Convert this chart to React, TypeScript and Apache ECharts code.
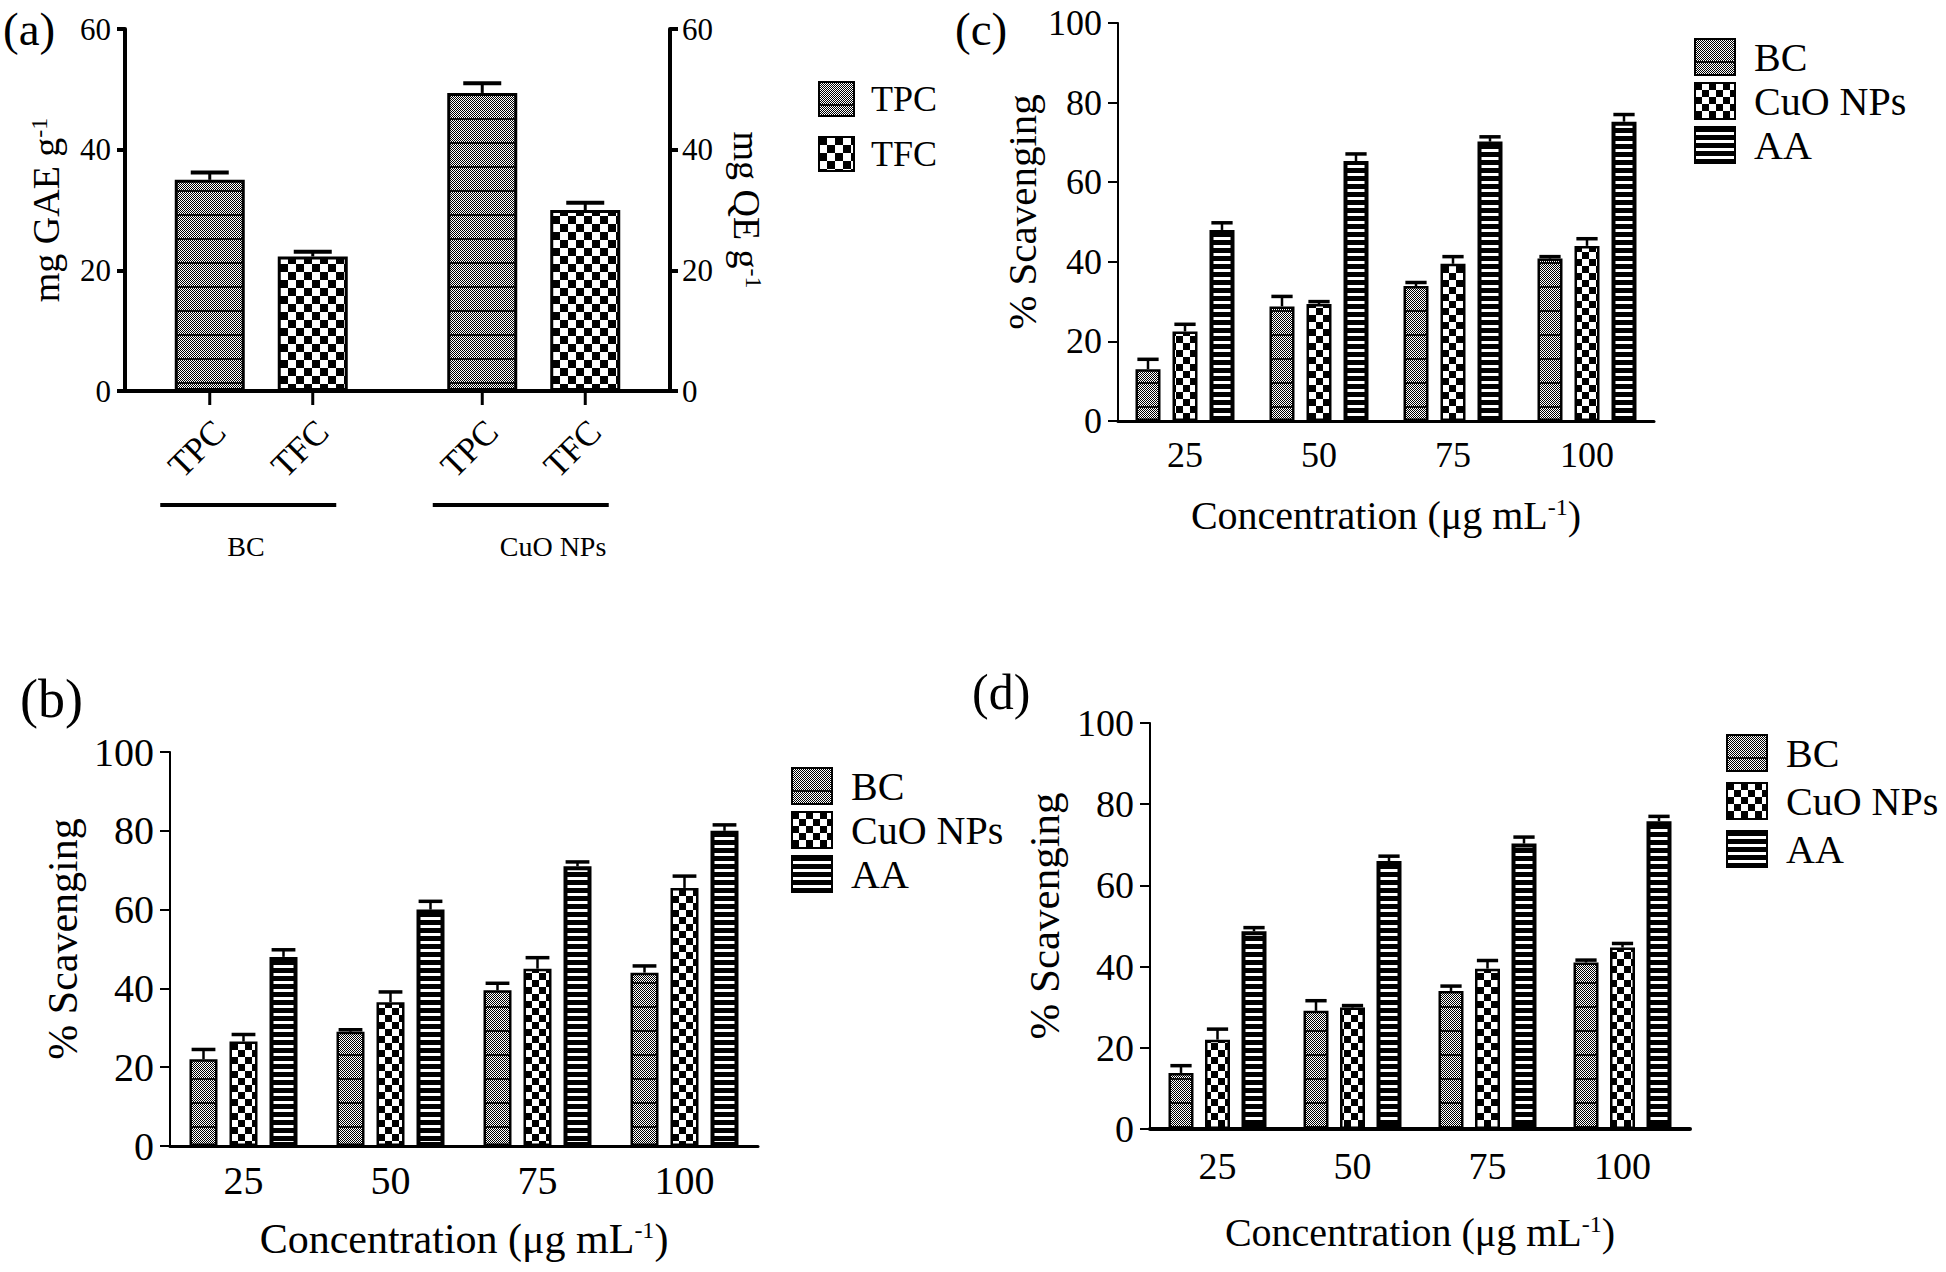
import React, { useEffect, useRef } from 'react';
import * as echarts from 'echarts';

const FONT = '"Liberation Serif", "Times New Roman", serif';

// ---------- Panel (a) ----------
const groupsA = ['BC', 'CuO NPs'];
const seriesA = ['TPC', 'TFC'];
const tpcA = [35, 49.4];
const tpcErrA = [1.2, 1.6];
const tfcA = [22.3, 30];
const tfcErrA = [0.8, 1.2];
const yTicksA = { min: 0, max: 60, interval: 20 };

// ---------- Panels (b), (c), (d) ----------
const concentrations = ['25', '50', '75', '100'];
const seriesS = ['BC', 'CuO NPs', 'AA'];
const yTicksS = { min: 0, max: 100, interval: 20 };

// (b)
const bBC = [22, 29, 39.5, 44];
const bBCErr = [2.5, 0.5, 1.8, 1.7];
const bCuO = [26.5, 36.5, 45, 65.5];
const bCuOErr = [1.8, 2.6, 2.8, 3.0];
const bAA = [48, 60, 71, 80];
const bAAErr = [1.8, 2.1, 1.1, 1.5];

// (c)
const cBC = [13, 28.8, 33.9, 40.8];
const cBCErr = [2.5, 2.5, 0.9, 0.5];
const cCuO = [22.5, 29.4, 39.5, 44];
const cCuOErr = [1.8, 0.6, 1.8, 1.8];
const cAA = [48, 65.3, 70.2, 75.2];
const cAAErr = [1.8, 1.8, 1.2, 1.8];

// (d)
const dBC = [13.8, 29.1, 34, 41];
const dBCErr = [1.8, 2.5, 1.2, 0.6];
const dCuO = [22, 29.9, 39.5, 44.7];
const dCuOErr = [2.6, 0.5, 2, 1];
const dAA = [48.7, 66, 70.3, 75.8];
const dAAErr = [0.9, 1.2, 1.6, 1.2];

function makePattern(kind: string, cell = 7): any {
  const c = document.createElement('canvas');
  let w = 4;
  let h = 24;
  if (kind === 'checker') { w = cell * 2; h = cell * 2; }
  if (kind === 'stripes') { w = 4; h = 8; }
  c.width = w;
  c.height = h;
  const ctx = c.getContext('2d')!;
  ctx.fillStyle = '#fff';
  ctx.fillRect(0, 0, w, h);
  ctx.fillStyle = '#000';
  if (kind === 'dots') {
    for (let y = 0; y < h - 2; y++) {
      for (let x = 0; x < w; x++) {
        if ((x + y) % 2 === 0) ctx.fillRect(x, y, 1, 1);
      }
    }
    ctx.fillStyle = '#111';
    ctx.fillRect(0, h - 2, w, 2);
  } else if (kind === 'checker') {
    ctx.fillRect(0, 0, cell, cell);
    ctx.fillRect(cell, cell, cell, cell);
  } else {
    ctx.fillRect(0, 0, w, 5);
  }
  return { image: c.toDataURL(), repeat: 'repeat', imageWidth: w, imageHeight: h };
}

function errRenderer(n: number, w: number, g: number, capW: number, lw: number) {
  return (params: any, api: any) => {
    const cat = api.value(0);
    const val = api.value(1);
    const err = api.value(2);
    const s = api.value(3);
    const base = api.coord([cat, val]);
    const top = api.coord([cat, val + err]);
    const x = base[0] + (s - (n - 1) / 2) * (w + g);
    return {
      type: 'group',
      children: [
        { type: 'line', shape: { x1: x, y1: base[1], x2: x, y2: top[1] }, style: { stroke: '#000', lineWidth: lw } },
        { type: 'line', shape: { x1: x - capW / 2, y1: top[1], x2: x + capW / 2, y2: top[1] }, style: { stroke: '#000', lineWidth: lw + 1 } },
      ],
    };
  };
}

function buildOption() {
  const P = {
    dots: makePattern('dots'),
    checker: makePattern('checker', 7),
    checkerA: makePattern('checker', 8),
    stripes: makePattern('stripes'),
  };
  const sup = { sup: { fontSize: 24, fontFamily: FONT, color: '#000', verticalAlign: 'top' } };

  const panels = [
    {
      grid: { left: 1118, top: 23, width: 536, height: 398 },
      data: [[cBC, cBCErr], [cCuO, cCuOErr], [cAA, cAAErr]],
      barW: 25, gap: 12, tickFont: 36, xLabelMargin: 16, nameGapX: 74, nameGapY: 76, titleFont: 41, xTitleFont: 40,
      axisW: 2, xAxisW: 3,
      legend: { left: 1689, top: 32, itemGap: 4 },
    },
    {
      grid: { left: 170, top: 752, width: 588, height: 394 },
      data: [[bBC, bBCErr], [bCuO, bCuOErr], [bAA, bAAErr]],
      barW: 28, gap: 12, tickFont: 40, xLabelMargin: 14, nameGapX: 72, nameGapY: 86, titleFont: 42, xTitleFont: 42,
      axisW: 2, xAxisW: 3,
      legend: { left: 786, top: 761, itemGap: 4 },
    },
    {
      grid: { left: 1150, top: 723, width: 540, height: 406 },
      data: [[dBC, dBCErr], [dCuO, dCuOErr], [dAA, dAAErr]],
      barW: 25, gap: 11.5, tickFont: 38, xLabelMargin: 18, nameGapX: 83, nameGapY: 84, titleFont: 43, xTitleFont: 40,
      axisW: 2, xAxisW: 4,
      legend: { left: 1721, top: 728, itemGap: 8 },
    },
  ];

  const grid: any[] = [{ left: 125, top: 29, width: 545, height: 362 }];
  const xAxis: any[] = [
    {
      type: 'category', gridIndex: 0, data: groupsA,
      axisLine: { lineStyle: { color: '#000', width: 4 } },
      axisTick: { show: false }, axisLabel: { show: false },
    },
  ];
  const yAxisBaseA = {
    type: 'value', gridIndex: 0, ...yTicksA,
    splitLine: { show: false },
    axisLine: { show: true, lineStyle: { color: '#000', width: 4 } },
    axisTick: { show: true, length: 8, lineStyle: { width: 4, color: '#000' } },
    axisLabel: { color: '#000', fontSize: 31, fontFamily: FONT, margin: 14 },
    nameLocation: 'middle',
    nameTextStyle: { color: '#000', fontSize: 38, fontFamily: FONT, rich: sup },
  };
  const yAxis: any[] = [
    { ...yAxisBaseA, position: 'left', name: 'mg GAE g{sup|-1}', nameGap: 60 },
    { ...yAxisBaseA, position: 'right', name: 'mg QE g{sup|-1}', nameGap: 58, nameRotate: -90,
      axisLabel: { ...yAxisBaseA.axisLabel, margin: 12 } },
  ];
  const legend: any[] = [
    {
      data: seriesA, orient: 'vertical', left: 813, top: 76, itemGap: 19, itemWidth: 35, itemHeight: 34,
      icon: 'rect', textStyle: { color: '#000', fontSize: 36, fontFamily: FONT, padding: [0, 0, 0, 12] },
    },
  ];

  const series: any[] = [
    {
      type: 'bar', name: seriesA[0], xAxisIndex: 0, yAxisIndex: 0, data: tpcA,
      barWidth: 70, barGap: `${(33 / 70) * 100}%`,
      itemStyle: { color: P.dots, borderColor: '#000', borderWidth: 3 },
    },
    {
      type: 'bar', name: seriesA[1], xAxisIndex: 0, yAxisIndex: 1, data: tfcA,
      barWidth: 70, barGap: `${(33 / 70) * 100}%`,
      itemStyle: { color: P.checkerA, borderColor: '#000', borderWidth: 3 },
    },
    {
      type: 'custom', name: 'errA', xAxisIndex: 0, yAxisIndex: 0, z: 10,
      renderItem: errRenderer(2, 70, 33, 38, 3),
      encode: { x: 0, y: 1 },
      data: [
        ...tpcA.map((v, i) => [i, v, tpcErrA[i], 0]),
        ...tfcA.map((v, i) => [i, v, tfcErrA[i], 1]),
      ],
    },
    {
      type: 'custom', name: 'ticksA', xAxisIndex: 0, yAxisIndex: 0, z: 10,
      encode: { x: 0, y: 1 },
      data: [[0, 0, 0], [0, 0, 1], [1, 0, 0], [1, 0, 1]],
      renderItem: (params: any, api: any) => {
        const cat = api.value(0);
        const s = api.value(2);
        const p = api.coord([cat, 0]);
        const x = p[0] + (s - 0.5) * (70 + 33);
        return {
          type: 'group',
          children: [
            { type: 'line', shape: { x1: x, y1: p[1], x2: x, y2: p[1] + 14 }, style: { stroke: '#000', lineWidth: 3 } },
            {
              type: 'text', x: x + 10, y: p[1] + 35, rotation: Math.PI / 4,
              style: { text: seriesA[s], fontSize: 35, fontFamily: FONT, fill: '#000', align: 'right', verticalAlign: 'middle' },
            },
          ],
        };
      },
    },
    {
      type: 'custom', name: 'groupsA', xAxisIndex: 0, yAxisIndex: 0, z: 10,
      encode: { x: 0, y: 1 },
      data: [[0, 0], [1, 0]],
      renderItem: (params: any, api: any) => {
        const cat = api.value(0);
        const p = api.coord([cat, 0]);
        const cx = p[0] - 13;
        return {
          type: 'group',
          children: [
            { type: 'line', shape: { x1: cx - 88, y1: p[1] + 114, x2: cx + 88, y2: p[1] + 114 }, style: { stroke: '#000', lineWidth: 4 } },
            {
              type: 'text', x: cx - 88 + 67, y: p[1] + 155,
              style: { text: groupsA[cat], fontSize: 28, fontFamily: FONT, fill: '#000', align: 'left', verticalAlign: 'middle' },
            },
          ],
        };
      },
    },
  ];

  const pats = [P.dots, P.checker, P.stripes];
  panels.forEach((pn, k) => {
    const gi = k + 1;
    const yi = k + 2;
    grid.push(pn.grid);
    xAxis.push({
      type: 'category', gridIndex: gi, data: concentrations,
      axisLine: { lineStyle: { color: '#000', width: pn.xAxisW } },
      axisTick: { alignWithLabel: true, length: 12, lineStyle: { width: 2, color: '#000' } },
      axisLabel: { color: '#000', fontSize: pn.tickFont, fontFamily: FONT, margin: pn.xLabelMargin },
      name: 'Concentration (μg mL{sup|-1})', nameLocation: 'middle', nameGap: pn.nameGapX,
      nameTextStyle: { color: '#000', fontSize: pn.xTitleFont, fontFamily: FONT, rich: sup },
    });
    yAxis.push({
      type: 'value', gridIndex: gi, ...yTicksS,
      splitLine: { show: false },
      axisLine: { show: true, lineStyle: { color: '#000', width: pn.axisW } },
      axisTick: { show: true, length: 10, lineStyle: { width: 2, color: '#000' } },
      axisLabel: { color: '#000', fontSize: pn.tickFont, fontFamily: FONT, margin: 16 },
      name: '% Scavenging', nameLocation: 'middle', nameGap: pn.nameGapY,
      nameTextStyle: { color: '#000', fontSize: pn.titleFont, fontFamily: FONT, padding: [0, 0, 0, 20] },
    });
    legend.push({
      data: seriesS, orient: 'vertical', left: pn.legend.left, top: pn.legend.top, itemGap: pn.legend.itemGap,
      itemWidth: 40, itemHeight: 36, icon: 'rect',
      textStyle: { color: '#000', fontSize: 40, fontFamily: FONT, padding: [0, 0, 0, 14] },
    });
    const gapPct = `${(pn.gap / pn.barW) * 100}%`;
    pn.data.forEach((d, s) => {
      series.push({
        type: 'bar', name: seriesS[s], xAxisIndex: gi, yAxisIndex: yi, data: d[0],
        barWidth: pn.barW, barGap: gapPct,
        itemStyle: { color: pats[s], borderColor: '#000', borderWidth: s === 2 ? 4 : 2.5 },
      });
    });
    const errData: any[] = [];
    pn.data.forEach((d, s) => d[0].forEach((v, i) => errData.push([i, v, d[1][i], s])));
    series.push({
      type: 'custom', name: `err${k}`, xAxisIndex: gi, yAxisIndex: yi, z: 10,
      renderItem: errRenderer(3, pn.barW, pn.gap, pn.barW * 0.85, 2.5),
      encode: { x: 0, y: 1 },
      data: errData,
    });
  });

  const panelLabel = (text: string, left: number, top: number, size: number) => ({
    type: 'text', left, top,
    style: { text, fontSize: size, fontFamily: FONT, fill: '#000' },
  });

  return {
    animation: false,
    backgroundColor: '#fff',
    grid, xAxis, yAxis, legend, series,
    graphic: [
      panelLabel('(a)', 3, 5, 47),
      panelLabel('(c)', 955, 5, 47),
      panelLabel('(b)', 20, 672, 54),
      panelLabel('(d)', 972, 667, 50),
    ],
  };
}

export default function App() {
  const ref = useRef<HTMLDivElement>(null);
  useEffect(() => {
    const chart = echarts.init(ref.current!, null, { renderer: 'svg' });
    chart.setOption(buildOption() as any);
    return () => chart.dispose();
  }, []);
  return (
    <div
      ref={ref}
      style={{ position: 'absolute', left: 0, top: 0, width: 1946, height: 1272, background: '#fff' }}
    />
  );
}
